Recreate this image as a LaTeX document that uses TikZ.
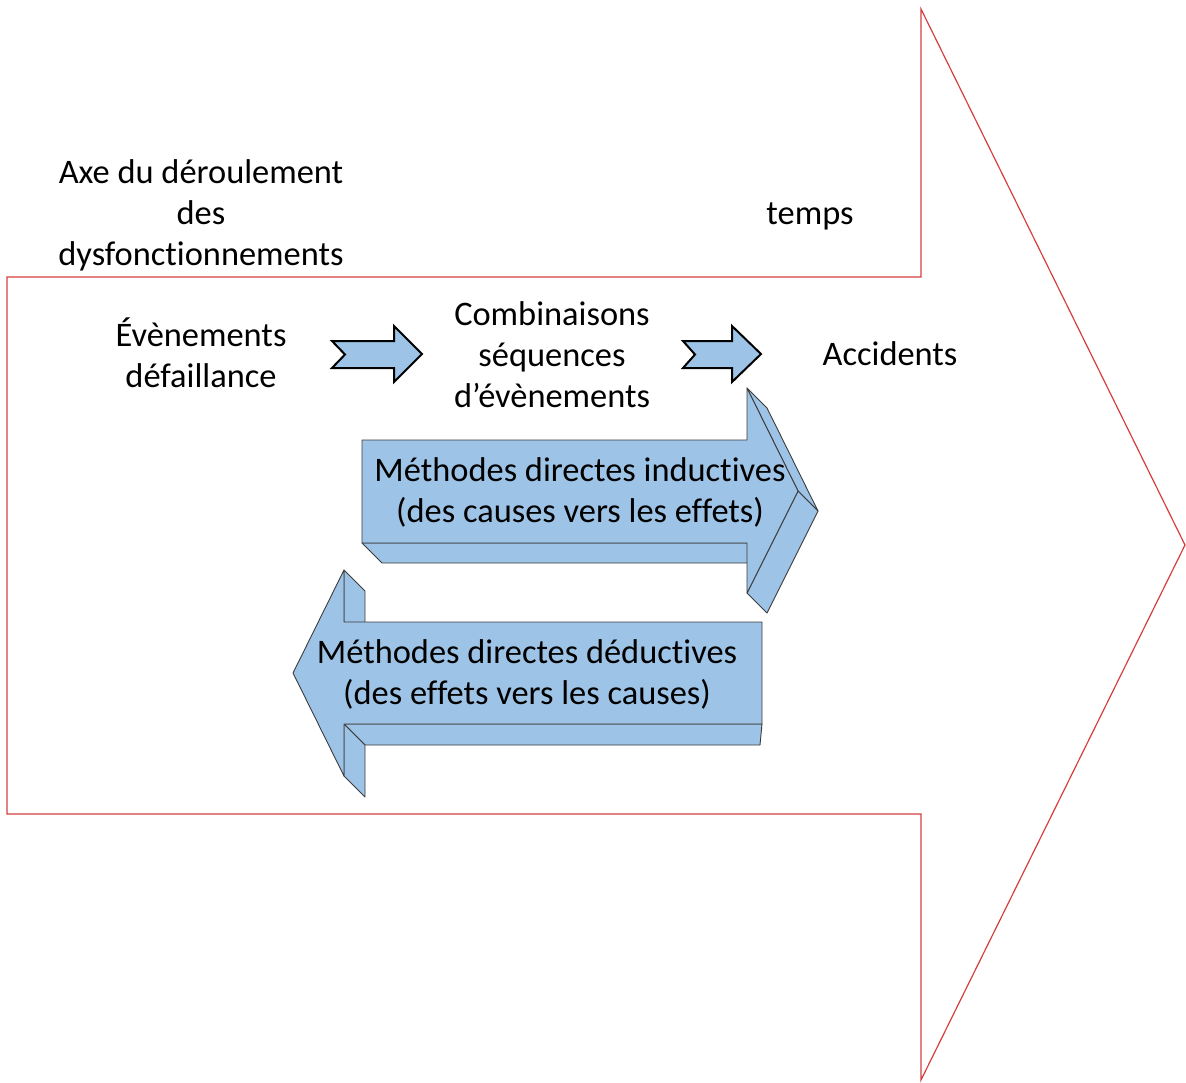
\documentclass[tikz,border=0pt]{standalone}
\usepackage{fontspec}
\setmainfont{Carlito}[Ligatures={NoCommon,NoContextual},RawFeature=-dlig]
\definecolor{axisred}{RGB}{214,62,62}
\definecolor{arrowblue}{RGB}{157,195,230}
\definecolor{edgegray}{RGB}{60,60,60}

\begin{document}
\begin{tikzpicture}[x=1pt,y=-1pt,
  lbl/.style={font=\fontsize{34.4}{41}\selectfont, align=center, inner sep=0pt},
  face/.style={fill=arrowblue, draw=edgegray, line width=0.9pt, line join=round},
  notched/.style={fill=arrowblue, draw=black, line width=2pt, line join=miter},
  axis/.style={draw=axisred, line width=1.2pt, line join=miter}]
\useasboundingbox (0,0) rectangle (1186,1082);

% large time axis arrow (outline only)
\draw[axis] (7,277) -- (921,277) -- (921,9) -- (1185,545) -- (921,1080)
  -- (921,814) -- (7,814) -- cycle;

% axis labels
\node[lbl] (axe) at (201,215) {Axe du déroulement\\des\\dysfonctionnements};
\node[lbl] (temps) at (810,216) {temps};

% chain of events
\node[lbl] (evt) at (201,352.5) {Évènements\\défaillance};
\node[lbl] (comb) at (552,355) {Combinaisons\\séquences\\d’évènements};
\node[lbl] (acc) at (890,354) {Accidents};

% notched block arrows between the stages
\draw[notched] (332,341) -- (394,341) -- (394,326) -- (422,354) -- (394,382)
  -- (394,368) -- (332,368) -- (345,354.5) -- cycle;
\draw[notched] (683,341) -- (732,341) -- (732,326) -- (761,354) -- (732,382)
  -- (732,368) -- (683,368) -- (695,354.5) -- cycle;

% extruded arrow pointing right: side faces first
\draw[face] (362,543) -- (747,543) -- (767,563) -- (382,563) -- cycle;
\draw[face] (747,388) -- (767,408) -- (818,511) -- (798,491) -- cycle;
\draw[face] (798,491) -- (818,511) -- (767,613) -- (747,593) -- cycle;
% front face
\draw[face] (362,440) -- (747,440) -- (747,388) -- (798,491) -- (747,593)
  -- (747,543) -- (362,543) -- cycle;
\node[lbl] (ind) at (580,492.5) {Méthodes directes inductives\\(des causes vers les effets)};

% extruded arrow pointing left: side faces first
\draw[face] (344,570) -- (365,591) -- (365,643) -- (344,622) -- cycle;
\draw[face] (344,724) -- (762,724) -- (760,745) -- (365,745) -- cycle;
\draw[face] (344,724) -- (365,745) -- (365,797) -- (344,776) -- cycle;
% front face
\draw[face] (762,622) -- (344,622) -- (344,570) -- (293,673) -- (344,776)
  -- (344,724) -- (762,724) -- cycle;
\node[lbl] (ded) at (527,674.5) {Méthodes directes déductives\\(des effets vers les causes)};
\end{tikzpicture}
\end{document}
